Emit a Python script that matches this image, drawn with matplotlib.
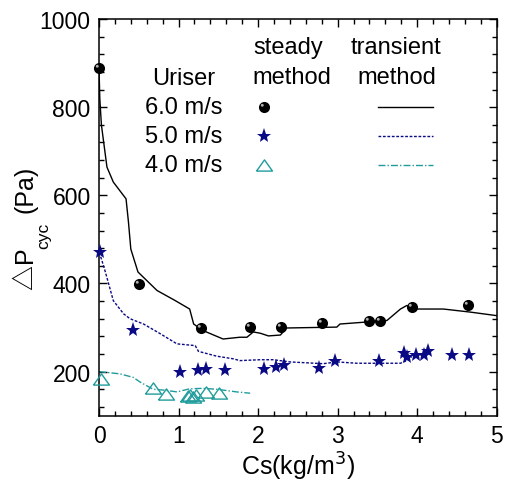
import numpy as np
import matplotlib
matplotlib.use('Agg')
import matplotlib.pyplot as plt
from matplotlib.path import Path
from matplotlib.ticker import MultipleLocator

plt.rcParams['font.family'] = ['Liberation Sans', 'DejaVu Sans']

# steady method (points)
steady6_x = [0.0, 0.50, 1.28, 1.90, 2.29, 2.80, 3.40, 3.53, 3.93, 4.64]
steady6_y = [889, 399, 299, 302, 302, 311, 315, 315, 346, 351]

steady5_x = [0.01, 0.43, 1.02, 1.24, 1.35, 1.58, 2.07, 2.22, 2.33, 2.77, 2.97,
             3.52, 3.83, 3.87, 3.99, 4.09, 4.14, 4.44, 4.65]
steady5_y = [471, 295, 199, 204, 205, 204, 206, 210, 216, 208, 225,
             223, 242, 233, 237, 237, 246, 238, 238]

steady4_x = [0.02, 0.68, 0.84, 1.12, 1.14, 1.18, 1.22, 1.35, 1.51]
steady4_y = [184, 163, 150, 144, 146, 143, 146, 153, 152]

# transient method (lines)
trans6_x = [0.0, 0.01, 0.03, 0.10, 0.18, 0.34, 0.37, 0.40, 0.49, 0.73, 0.95,
            1.14, 1.19, 1.31, 1.56, 1.77, 1.86, 1.94, 2.03, 2.13, 2.28, 2.36,
            2.99, 3.03, 3.62, 3.79, 3.87, 3.95, 4.04, 4.33, 4.67, 5.0]
trans6_y = [890, 820, 760, 664, 630, 592, 540, 478, 426, 384, 362,
            342, 308, 293, 274, 278, 278, 290, 287, 281, 283, 299,
            301, 308, 316, 342, 350, 342, 342, 342, 335, 327]

trans5_x = [0.0, 0.03, 0.08, 0.18, 0.31, 0.39, 0.56, 0.77, 0.98, 1.21, 1.25,
            1.48, 1.69, 1.77, 2.03, 2.19, 2.40, 2.82, 2.99, 3.24, 3.79, 3.87, 3.93]
trans5_y = [470, 456, 426, 361, 331, 320, 308, 286, 263, 259, 246,
            235, 229, 225, 227, 227, 222, 218, 222, 219, 219, 225, 233]

trans4_x = [0.0, 0.26, 0.43, 0.52, 0.68, 0.82, 0.98, 1.14, 1.30, 1.48, 1.73, 1.90]
trans4_y = [200, 195, 187, 176, 160, 158, 154, 161, 162, 160, 154, 151]

speeds = ['6.0 m/s', '5.0 m/s', '4.0 m/s']

W, H = 506, 489
fig = plt.figure(figsize=(W / 100, H / 100), dpi=100)
ax = fig.add_axes([99 / W, 1 - 416.7 / H, 397.7 / W, 396.7 / H])

navy = '#0a0a85'
teal = '#219c9c'
sph = 8
tri = [(-1, -0.7), (1, -0.7), (0, 0.7), (-1, -0.7)]
# highlight on the black spheres
glint = Path.circle((-0.2, 0.2), 0.13)


def sphere(x, y, **kw):
    ax.plot(x, y, 'o', color='black', ms=sph, mew=0, **kw)
    ax.plot(x, y, marker=glint, ls='none', color='#b0b0b0', ms=sph * 0.66, mew=0, **kw)


ax.plot(trans6_x, trans6_y, color='black', lw=1.0)
ax.plot(trans5_x, trans5_y, color=navy, lw=1.0, ls=(0, (2, 1.2)))
ax.plot(trans4_x, trans4_y, color=teal, lw=1.0, ls=(0, (5, 1.5, 1, 1.5)))

sphere(steady6_x, steady6_y, clip_on=False, zorder=3)
ax.plot(steady5_x, steady5_y, '*', color=navy, ms=11, mew=0, clip_on=False, zorder=3)
ax.plot(steady4_x, steady4_y, marker=tri, ls='none', mfc='none', mec=teal, ms=11.5,
        mew=1.0, clip_on=False, zorder=3)

ax.set_xlim(0, 5)
ax.set_ylim(100, 1000)
ax.xaxis.set_major_locator(MultipleLocator(1))
ax.xaxis.set_minor_locator(MultipleLocator(0.2))
ax.yaxis.set_major_locator(MultipleLocator(200))
ax.yaxis.set_minor_locator(MultipleLocator(40))
ax.tick_params(which='both', direction='in', top=True, right=True, width=1.0)
ax.tick_params(which='major', length=6, labelsize=16.5, pad=6)
ax.tick_params(which='minor', length=3.5)
for s in ax.spines.values():
    s.set_linewidth(1.1)

ax.set_xlabel('Cs(kg/m$^3$)', fontsize=18, labelpad=2)
plt.rcParams['mathtext.fontset'] = 'custom'
plt.rcParams['mathtext.rm'] = 'Liberation Sans'


def ft(x, y, s, **kw):
    fig.text(x / W, 1 - y / H, s, ha='center', va='center', **kw)


# y label built from pieces
ft(25, 277, '\u25b3', fontsize=18, rotation=90, family=['Noto Sans CJK SC', 'DejaVu Sans'])
ft(25, 255, 'P', fontsize=18, rotation=90)
ft(44, 236, 'cyc', fontsize=12.5, rotation=90)
ft(26, 189, '(Pa)', fontsize=18, rotation=90)

# legend drawn as a small table
ft(184, 79, 'Uriser', fontsize=17)
ft(288, 48, 'steady', fontsize=17)
ft(292, 78, 'method', fontsize=17)
ft(396, 48, 'transient', fontsize=17)
ft(397, 78, 'method', fontsize=17)
rows = [108, 137, 166]
for sp, yy in zip(speeds, rows):
    ft(184, yy, sp, fontsize=17)

tf = fig.transFigure
lx, l0, l1 = 264.3 / W, 378 / W, 433 / W
ry = [1 - r / H for r in rows]
ax.plot([lx], [ry[0]], 'o', color='black', ms=sph, mew=0, transform=tf, clip_on=False)
ax.plot([lx], [ry[0]], marker=glint, ls='none', color='#b0b0b0', ms=sph * 0.66, mew=0,
        transform=tf, clip_on=False)
ax.plot([lx], [ry[1]], '*', color=navy, ms=11, mew=0, transform=tf, clip_on=False)
ax.plot([lx], [ry[2]], marker=tri, ls='none', mfc='none', mec=teal, ms=11.5, mew=1.0,
        transform=tf, clip_on=False)
ax.plot([l0, l1], [ry[0]] * 2, color='black', lw=1.0, transform=tf, clip_on=False)
ax.plot([l0, l1], [ry[1]] * 2, color=navy, lw=1.0, ls=(0, (2, 1.2)), transform=tf, clip_on=False)
ax.plot([l0, l1], [ry[2]] * 2, color=teal, lw=1.0, ls=(0, (5, 1.5, 1, 1.5)), transform=tf,
        clip_on=False)

fig.savefig('out.png', dpi=100)
